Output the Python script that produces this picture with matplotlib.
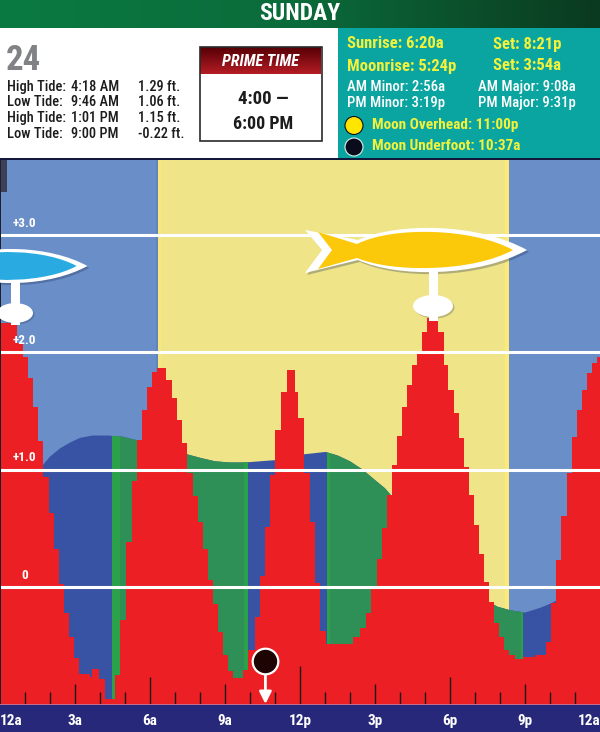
import numpy as np
import matplotlib
matplotlib.use("Agg")
import matplotlib.pyplot as plt
from matplotlib.colors import LinearSegmentedColormap
from matplotlib.patches import Rectangle, Ellipse, PathPatch, Circle
from matplotlib.path import Path

COND = ['Roboto Condensed', 'Liberation Sans', 'DejaVu Sans']
plt.rcParams['font.family'] = COND

# -------------------------------
# Data
# -------------------------------
day_name = "SUNDAY"
day_number = "24"
tide_table = [
    ("High Tide:", "4:18 AM", "1.29 ft."),
    ("Low Tide:", "9:46 AM", "1.06 ft."),
    ("High Tide:", "1:01 PM", "1.15 ft."),
    ("Low Tide:", "9:00 PM", "-0.22 ft."),
]

sunrise_hour = 6 + 20 / 60
sunset_hour = 20 + 21 / 60
underfoot_hour = 10 + 37 / 60
underfoot_feet = -0.63

# smooth tide level, drawn behind the bars
level_hours = [0, 0.6, 1.2, 1.72, 2.0, 2.4, 2.8, 3.2, 3.7, 4.3, 4.9, 5.48, 6.2, 7.0, 7.48, 8.0,
               8.6, 9.2, 9.77, 10.4, 11.0, 11.6, 12.16, 12.6, 13.02, 13.5, 14.0, 14.5, 15.0,
               15.4, 15.68, 17.0, 18.5, 19.56, 19.9, 20.4, 21.0, 21.6, 21.95, 22.24, 23.0, 24.0]
level_feet = [0.50, 0.80, 0.98, 1.04, 1.11, 1.18, 1.23, 1.27, 1.29, 1.29, 1.28, 1.25, 1.21, 1.16,
              1.13, 1.10, 1.07, 1.06, 1.06, 1.07, 1.08, 1.10, 1.13, 1.14, 1.15, 1.12, 1.07, 1.00,
              0.91, 0.84, 0.77, 0.45, 0.10, -0.13, -0.17, -0.20, -0.22, -0.18, -0.15, -0.12, 0.15, 0.60]

# stepped bars, one height per time slot
bar_hours = [0, 0.68, 0.92, 1.12, 1.32, 1.52, 1.72, 1.96, 2.16, 2.36,
             2.56, 2.76, 2.96, 3.16, 3.6, 3.68, 3.96, 4.2, 4.6, 4.8,
             5.04, 5.28, 5.48, 5.68, 5.88, 6.08, 6.28, 6.64, 6.88, 7.08,
             7.28, 7.48, 7.72, 7.92, 8.12, 8.32, 8.52, 8.72, 8.92, 9.12,
             9.32, 9.72, 9.92, 10.2, 10.4, 10.6, 10.8, 11.0, 11.24, 11.48,
             11.8, 11.92, 12.16, 12.4, 12.6, 12.8, 13.04, 14.12, 14.4, 14.64,
             14.84, 15.08, 15.28, 15.48, 15.68, 15.88, 16.08, 16.28, 16.48, 16.68,
             16.88, 17.08, 17.52, 17.76, 17.92, 18.16, 18.36, 18.56, 18.76, 18.96,
             19.16, 19.36, 19.56, 19.76, 19.96, 20.16, 20.36, 20.6, 20.92, 21.4,
             21.84, 22.04, 22.24, 22.44, 22.68, 22.88, 23.08, 23.28, 23.48, 23.68,
             23.88, 24.0]
bar_feet = [2.25, 2.08, 1.96, 1.78, 1.53, 1.24, 0.94, 0.63, 0.32, 0.02,
            -0.22, -0.43, -0.61, -0.74, -0.77, -0.70, -0.79, -0.96, -0.75, -0.28,
            0.38, 0.90, 1.25, 1.51, 1.70, 1.83, 1.87, 1.76, 1.61, 1.42,
            1.23, 0.97, 0.77, 0.55, 0.32, 0.06, -0.15, -0.39, -0.58, -0.72,
            -0.78, -0.71, -0.54, -0.26, 0.09, 0.51, 0.95, 1.34, 1.66, 1.85,
            1.66, 1.44, 0.97, 0.55, 0.03, -0.38, -0.49, -0.43, -0.35, -0.22,
            -0.01, 0.24, 0.50, 0.78, 1.04, 1.29, 1.53, 1.72, 1.89, 1.99,
            2.17, 2.29, 2.17, 1.89, 1.68, 1.48, 1.27, 1.02, 0.78, 0.53,
            0.28, 0.04, -0.13, -0.31, -0.43, -0.54, -0.58, -0.62, -0.60, -0.58,
            -0.47, -0.14, 0.23, 0.60, 0.97, 1.28, 1.51, 1.68, 1.82, 1.91,
            1.96, 1.96]

# parts of the day shaded green under the tide level
green_spans = [(4.48, 5.6), (7.4, 9.9), (13.08, 15.9), (19.6, 20.92)]
# brighter edge of each green part
bright_spans = [(4.48, 4.8), (9.78, 9.9), (13.08, 13.2), (20.82, 20.92)]

grid_levels = [3, 2, 1, 0]
grid_labels = ["+3.0", "+2.0", "+1.0", "0"]

hour_ticks = [1, 2, 3, 4, 5, 6, 7, 8, 9, 10, 11, 12, 13, 14, 15, 16, 17, 18, 19, 20, 21, 22, 23]
tick_tops = [-0.90, -0.90, -0.83, -0.90, -0.90, -0.77, -0.90, -0.90, -0.83, -0.90, -0.90, -0.68,
             -0.90, -0.90, -0.83, -0.90, -0.90, -0.77, -0.90, -0.90, -0.83, -0.90, -0.90]
label_hours = [0, 3, 6, 9, 12, 15, 18, 21, 24]
label_text = ["12a", "3a", "6a", "9a", "12p", "3p", "6p", "9p", "12a"]

NIGHT = "#6a8ec8"
DAY = "#efe488"
RED = "#ec2024"
DEEP = "#3953a4"
GREEN = "#2e8f57"
BRIGHT = "#2ba24a"
YELLOW = "#f2f23c"

fig = plt.figure(figsize=(6.0, 7.32), dpi=100, facecolor="#27287a")

# -------------------------------
# Tide chart
# -------------------------------
ax = fig.add_axes([0, 28 / 732, 1, 544 / 732])
ax.set_xlim(0, 24)
ax.set_ylim(-1.0, 3.64)
ax.set_facecolor(NIGHT)
for s in ax.spines.values():
    s.set_visible(False)

ax.axvspan(sunrise_hour, sunset_hour, color=DAY, lw=0, zorder=1)
ax.axvspan(sunrise_hour - 0.1, sunrise_hour, color="#5f84bf", lw=0, zorder=1)
ax.axvspan(sunrise_hour, sunrise_hour + 0.12, color="#f7e77f", lw=0, zorder=1)
ax.axvspan(sunset_hour - 0.16, sunset_hour, color="#fbe97a", lw=0, zorder=1)

water = ax.fill_between(level_hours, -1.0, level_feet, color=DEEP, lw=0, zorder=2)
for start, end in green_spans:
    band = ax.axvspan(start, end, color=GREEN, lw=0, zorder=3)
    band.set_clip_path(water.get_paths()[0], water.get_transform())
for start, end in bright_spans:
    band = ax.axvspan(start, end, color=BRIGHT, lw=0, zorder=3)
    band.set_clip_path(water.get_paths()[0], water.get_transform())

ax.fill_between(bar_hours, -1.0, bar_feet, step="post", color=RED, lw=0, zorder=4)

for level, text in zip(grid_levels, grid_labels):
    ax.axhline(level, color="white", lw=2.2, zorder=5)
    ax.text(0.98, level + 0.10, text, color="white", fontsize=9.5, fontweight="bold",
            ha="center", va="center", zorder=6)

ax.vlines(hour_ticks, -1.0, tick_tops, color="#1a1010", lw=1.0, zorder=5)

# moon underfoot marker with its arrow
ax.annotate("", xy=(underfoot_hour, -1.0), xytext=(underfoot_hour, -0.72), zorder=6,
            arrowprops=dict(arrowstyle="-|>", color="white", lw=2.0, mutation_scale=18,
                            shrinkA=0, shrinkB=0))
ax.scatter([underfoot_hour], [underfoot_feet], s=340, color="#1f0404", edgecolor="white",
           linewidth=1.6, zorder=7)

ax.set_yticks([])
ax.set_xticks(label_hours)
ax.set_xticklabels(label_text, color="white", fontsize=11, fontweight="bold")
ax.tick_params(axis="x", length=0, pad=7)
tick_text = ax.get_xticklabels()
tick_text[0].set_ha("left")
tick_text[-1].set_ha("right")

# -------------------------------
# Header and info panels, in pixel coordinates
# -------------------------------
top = fig.add_axes([0, 0, 1, 1], facecolor="none")
top.set_axis_off()

green_cmap = LinearSegmentedColormap.from_list("hdr", ["#0b7a42", "#0a6b3a", "#0a3a20"])
top.imshow(np.linspace(0, 1, 256).reshape(1, -1), cmap=green_cmap, aspect="auto",
           extent=[0, 600, 28, 0], zorder=1)
top.add_patch(Rectangle((0, 28), 338, 131, color="white", lw=0, zorder=1))
top.add_patch(Rectangle((338, 28), 262, 131, color="#0aa5a0", lw=0, zorder=1))
top.add_patch(Rectangle((0, 158), 600, 2, color="#12183a", lw=0, zorder=1))
top.add_patch(Rectangle((0, 160), 1, 545, color="#20202a", lw=0, zorder=1))
top.add_patch(Rectangle((1, 160), 6, 32, color="#3c3f55", lw=0, zorder=1))
top.add_patch(Rectangle((0, 704), 600, 1.2, color="#c86a90", lw=0, zorder=1))


def label(x, y, text, size=11, color="#1c1c1c", weight="bold", ha="left", style="normal"):
    top.text(x, y, text, fontsize=size, color=color, fontweight=weight, ha=ha, va="center",
             fontstyle=style, family=COND, zorder=5)


label(300, 14, day_name, size=17, color="white", ha="center")
label(6, 60, day_number, size=25, color="#808285")

for y, (kind, when, height) in zip([87, 102, 118, 134], tide_table):
    label(7, y, kind, size=10.4, weight=500)
    label(71, y, when, size=10.4, weight=500)
    label(138, y, height, size=10.4, weight=500)

# prime time box
red_cmap = LinearSegmentedColormap.from_list("prime", ["#560006", "#b51c24"])
top.imshow(np.linspace(0, 1, 64).reshape(-1, 1), cmap=red_cmap, aspect="auto",
           extent=[200, 321, 74, 47], zorder=2)
top.add_patch(Rectangle((199.5, 47), 122, 93.5, fill=False, edgecolor="#2a2a2a", lw=1.2, zorder=3))
label(260, 62, "PRIME TIME", size=11.5, color="white", ha="center", style="italic")
label(263, 99, "4:00 \u2014", size=13.5, ha="center")
label(263, 124, "6:00 PM", size=13, ha="center")

# sun, moon and feeding times
label(347, 44, "Sunrise: 6:20a", size=12, color=YELLOW)
label(493, 44, "Set: 8:21p", size=12, color=YELLOW)
label(347, 66, "Moonrise: 5:24p", size=12, color=YELLOW)
label(493, 66, "Set: 3:54a", size=12, color=YELLOW)
label(347, 87, "AM Minor: 2:56a", size=10.6, color="white", weight=500)
label(478, 87, "AM Major: 9:08a", size=10.6, color="white", weight=500)
label(347, 103, "PM Minor: 3:19p", size=10.6, color="white", weight=500)
label(478, 103, "PM Major: 9:31p", size=10.6, color="white", weight=500)
top.add_patch(Circle((354, 125.5), 9, facecolor="#ffe600", edgecolor="#101020", lw=0.8, zorder=4))
top.add_patch(Circle((354, 147), 9, facecolor="#0a0c1c", edgecolor="#d8f0ee", lw=0.8, zorder=4))
label(372, 125, "Moon Overhead: 11:00p", size=11, color=YELLOW)
label(372, 145.5, "Moon Underfoot: 10:37a", size=11, color=YELLOW)


# -------------------------------
# Fish markers
# -------------------------------
FISH_CODES = [Path.MOVETO, Path.LINETO, Path.LINETO, Path.CURVE4, Path.CURVE4, Path.CURVE4,
              Path.CURVE4, Path.CURVE4, Path.CURVE4, Path.LINETO, Path.CLOSEPOLY]
FISH_OUTER = [(-111, 0), (-128, -20), (-75, -10), (-35, -28), (45, -27), (94, 0),
              (45, 27), (-35, 28), (-75, 10), (-128, 23), (-111, 0)]
FISH_INNER = [(-101, 0), (-115, -18), (-76, -6), (-40, -24), (40, -22), (80, 0),
              (40, 22), (-40, 23), (-76, 8), (-115, 19), (-101, 0)]


def draw_fish(cx, cy, scale, fill, bubble_y, bubble_w):
    outer = [(cx + px * scale, cy + py * scale) for px, py in FISH_OUTER]
    inner = [(cx + px * scale, cy + py * scale) for px, py in FISH_INNER]
    shadow = [(x + 2, y + 2) for x, y in outer]
    top.add_patch(Ellipse((cx + 1.5, bubble_y + 1.5), bubble_w, bubble_w * 0.55, color="#20304a",
                          alpha=0.25, lw=0, zorder=2))
    top.add_patch(PathPatch(Path(shadow, FISH_CODES), facecolor="#1c2c50", edgecolor="none", alpha=0.3, zorder=2))
    top.add_patch(Rectangle((cx - 4.5, cy + 15 * scale), 9, bubble_y - cy, color="white", lw=0, zorder=3))
    top.add_patch(Ellipse((cx, bubble_y), bubble_w, bubble_w * 0.55, color="white", lw=0, zorder=3))
    top.add_patch(PathPatch(Path(outer, FISH_CODES), facecolor="white", edgecolor="none", zorder=3))
    top.add_patch(PathPatch(Path(inner, FISH_CODES), facecolor=fill, edgecolor="none", zorder=4))


draw_fish(433, 250, 1.0, "#fcc80a", 306, 40)
draw_fish(15, 266, 0.77, "#29abe2", 313, 36)

top.set_xlim(0, 600)
top.set_ylim(732, 0)

fig.savefig("out.png", dpi=100)
